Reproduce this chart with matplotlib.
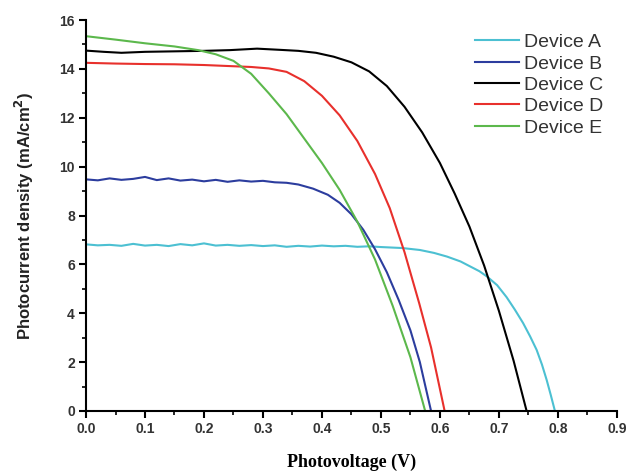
import matplotlib
matplotlib.use('Agg')
import matplotlib.pyplot as plt
from matplotlib.ticker import MultipleLocator

# Device A (cyan)
a_v = [0.00, 0.02, 0.04, 0.06, 0.08, 0.10, 0.12, 0.14, 0.16, 0.18, 0.20, 0.22, 0.24, 0.26,
       0.28, 0.30, 0.32, 0.34, 0.36, 0.38, 0.40, 0.42, 0.44, 0.46, 0.48, 0.50, 0.536, 0.566,
       0.59, 0.612, 0.635, 0.651, 0.667, 0.68, 0.697, 0.713, 0.727, 0.741, 0.753, 0.764,
       0.773, 0.781, 0.788, 0.795]
a_j = [6.82, 6.78, 6.80, 6.76, 6.84, 6.77, 6.80, 6.75, 6.83, 6.78, 6.86, 6.77, 6.80, 6.76,
       6.79, 6.75, 6.78, 6.72, 6.76, 6.73, 6.77, 6.74, 6.76, 6.72, 6.74, 6.71, 6.67, 6.59,
       6.47, 6.32, 6.12, 5.92, 5.72, 5.50, 5.15, 4.66, 4.15, 3.60, 3.05, 2.50,
       1.90, 1.27, 0.65, 0.0]

# Device B (blue)
b_v = [0.00, 0.02, 0.04, 0.06, 0.08, 0.10, 0.12, 0.14, 0.16, 0.18, 0.20, 0.22, 0.24, 0.26,
       0.28, 0.30, 0.32, 0.34, 0.36, 0.385, 0.41, 0.43, 0.45, 0.47, 0.49, 0.51, 0.53,
       0.55, 0.566, 0.575, 0.585]
b_j = [9.48, 9.44, 9.52, 9.46, 9.50, 9.58, 9.45, 9.52, 9.43, 9.47, 9.40, 9.46, 9.38, 9.44,
       9.39, 9.42, 9.36, 9.34, 9.27, 9.10, 8.85, 8.52, 8.05, 7.42, 6.62, 5.68, 4.55,
       3.30, 2.00, 1.05, 0.0]

# Device C (black)
c_v = [0.00, 0.03, 0.06, 0.10, 0.15, 0.20, 0.244, 0.29, 0.33, 0.36, 0.39, 0.42, 0.45, 0.48,
       0.51, 0.54, 0.57, 0.60, 0.625, 0.65, 0.675, 0.70, 0.725, 0.747]
c_j = [14.75, 14.70, 14.66, 14.70, 14.72, 14.74, 14.77, 14.83, 14.78, 14.74, 14.66, 14.50, 14.27,
       13.90, 13.30, 12.45, 11.40, 10.15, 8.90, 7.55, 5.95, 4.10, 2.05, 0.0]

# Device D (red)
d_v = [0.00, 0.05, 0.10, 0.15, 0.20, 0.24, 0.28, 0.31, 0.34, 0.37, 0.40, 0.43, 0.46, 0.49,
       0.515, 0.54, 0.565, 0.585, 0.608]
d_j = [14.25, 14.22, 14.20, 14.19, 14.16, 14.12, 14.08, 14.02, 13.88, 13.50, 12.90, 12.10, 11.05,
       9.70, 8.30, 6.50, 4.40, 2.60, 0.0]

# Device E (green)
e_v = [0.00, 0.05, 0.10, 0.15, 0.19, 0.22, 0.25, 0.28, 0.31, 0.34, 0.37, 0.40, 0.43, 0.46,
       0.49, 0.52, 0.55, 0.575]
e_j = [15.34, 15.20, 15.05, 14.92, 14.77, 14.60, 14.33, 13.80, 13.00, 12.15, 11.15, 10.15, 9.05,
       7.75, 6.20, 4.30, 2.20, 0.0]

labels = ['Device A', 'Device B', 'Device C', 'Device D', 'Device E']
colors = ['#4cc0d2', '#2c3d9e', '#000000', '#e8302c', '#5cb84c']

fig = plt.figure(figsize=(6.26, 4.71), dpi=100)
ax = fig.add_axes([0.1374, 0.1274, 0.848, 0.830])

for v, j, lab, col in zip([a_v, b_v, c_v, d_v, e_v], [a_j, b_j, c_j, d_j, e_j], labels, colors):
    ax.plot(v, j, color=col, lw=1.5, label=lab)

ax.set_xlim(0, 0.9)
ax.set_ylim(0, 16)
ax.xaxis.set_major_locator(MultipleLocator(0.1))
ax.xaxis.set_minor_locator(MultipleLocator(0.05))
ax.yaxis.set_major_locator(MultipleLocator(2))
ax.yaxis.set_minor_locator(MultipleLocator(1))

for s in ['top', 'right']:
    ax.spines[s].set_visible(False)
for s in ['left', 'bottom']:
    ax.spines[s].set_linewidth(1.5)

ax.tick_params(which='major', direction='out', length=5, width=1.5, pad=3,
               labelsize=10, labelcolor='#333333')
ax.tick_params(which='minor', direction='out', length=3, width=1.2)
for t in ax.get_yticklabels():
    t.set_fontfamily('Liberation Sans')
    t.set_fontweight('bold')
ax.set_xticks([0, 0.1, 0.2, 0.3, 0.4, 0.5, 0.6, 0.7, 0.8, 0.9])
ax.set_xticklabels(['0.0', '0.1', '0.2', '0.3', '0.4', '0.5', '0.6', '0.7', '0.8', '0.9'],
                   fontfamily='Liberation Sans', fontweight='bold')

ax.set_xlabel('Photovoltage (V)', fontfamily='Liberation Serif', fontweight='bold',
              fontsize=13, labelpad=13)
ax.set_ylabel(r'Photocurrent density (mA/cm$^\mathbf{2}$)', fontfamily='Liberation Sans',
              fontweight='bold', fontsize=12, color='#222222', labelpad=17)

leg = ax.legend(loc='upper right', bbox_to_anchor=(1.0, 1.0), frameon=False,
                prop={'family': 'Liberation Sans', 'size': 14}, handlelength=2.27,
                handletextpad=0.26, labelspacing=0.19, borderaxespad=0.3)
for t in leg.get_texts():
    t.set_color('#333333')

fig.savefig('out.png', dpi=100)
